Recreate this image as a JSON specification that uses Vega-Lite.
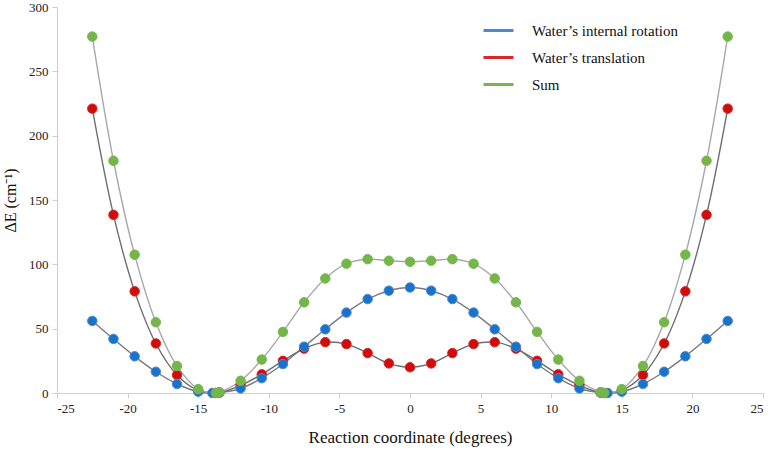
{
  "$schema": "https://vega.github.io/schema/vega-lite/v6.json",
  "width": 706,
  "height": 386,
  "autosize": {"type": "none"},
  "padding": {"left": 57, "top": 7, "right": 8, "bottom": 58},
  "background": "white",
  "config": {
    "view": {"stroke": null},
    "font": "Times New Roman",
    "axis": {
      "labelFont": "Times New Roman",
      "titleFont": "Times New Roman",
      "labelColor": "#222",
      "titleColor": "#111",
      "labelFontSize": 13,
      "titleFontWeight": "normal",
      "grid": false,
      "domainColor": "#cfcfcf",
      "tickColor": "#cfcfcf",
      "tickSize": 5
    },
    "legend": {
      "labelFont": "Liberation Serif"
    }
  },
  "data": {
    "values": [
      {"x": -22.5, "s": "Water’s translation", "v": 221},
      {"x": -21, "s": "Water’s translation", "v": 138.5},
      {"x": -19.5, "s": "Water’s translation", "v": 79},
      {"x": -18, "s": "Water’s translation", "v": 38.5},
      {"x": -16.5, "s": "Water’s translation", "v": 14},
      {"x": -15, "s": "Water’s translation", "v": 2},
      {"x": -13.8, "s": "Water’s translation", "v": 0},
      {"x": -13.5, "s": "Water’s translation", "v": 0.3},
      {"x": -12, "s": "Water’s translation", "v": 6},
      {"x": -10.5, "s": "Water’s translation", "v": 14.5},
      {"x": -9, "s": "Water’s translation", "v": 25},
      {"x": -7.5, "s": "Water’s translation", "v": 34.5},
      {"x": -6, "s": "Water’s translation", "v": 39.5},
      {"x": -4.5, "s": "Water’s translation", "v": 38},
      {"x": -3, "s": "Water’s translation", "v": 31},
      {"x": -1.5, "s": "Water’s translation", "v": 23},
      {"x": 0, "s": "Water’s translation", "v": 20},
      {"x": 1.5, "s": "Water’s translation", "v": 23},
      {"x": 3, "s": "Water’s translation", "v": 31},
      {"x": 4.5, "s": "Water’s translation", "v": 38},
      {"x": 6, "s": "Water’s translation", "v": 39.5},
      {"x": 7.5, "s": "Water’s translation", "v": 34.5},
      {"x": 9, "s": "Water’s translation", "v": 25},
      {"x": 10.5, "s": "Water’s translation", "v": 14.5},
      {"x": 12, "s": "Water’s translation", "v": 6},
      {"x": 13.5, "s": "Water’s translation", "v": 0.3},
      {"x": 13.8, "s": "Water’s translation", "v": 0},
      {"x": 15, "s": "Water’s translation", "v": 2},
      {"x": 16.5, "s": "Water’s translation", "v": 14},
      {"x": 18, "s": "Water’s translation", "v": 38.5},
      {"x": 19.5, "s": "Water’s translation", "v": 79},
      {"x": 21, "s": "Water’s translation", "v": 138.5},
      {"x": 22.5, "s": "Water’s translation", "v": 221},

      {"x": -22.5, "s": "Water’s internal rotation", "v": 56},
      {"x": -21, "s": "Water’s internal rotation", "v": 42},
      {"x": -19.5, "s": "Water’s internal rotation", "v": 28.5},
      {"x": -18, "s": "Water’s internal rotation", "v": 16.5},
      {"x": -16.5, "s": "Water’s internal rotation", "v": 7},
      {"x": -15, "s": "Water’s internal rotation", "v": 1},
      {"x": -14, "s": "Water’s internal rotation", "v": 0},
      {"x": -13.5, "s": "Water’s internal rotation", "v": 0.3},
      {"x": -12, "s": "Water’s internal rotation", "v": 3.5},
      {"x": -10.5, "s": "Water’s internal rotation", "v": 11.5},
      {"x": -9, "s": "Water’s internal rotation", "v": 22.5},
      {"x": -7.5, "s": "Water’s internal rotation", "v": 36},
      {"x": -6, "s": "Water’s internal rotation", "v": 49.5},
      {"x": -4.5, "s": "Water’s internal rotation", "v": 62.5},
      {"x": -3, "s": "Water’s internal rotation", "v": 73},
      {"x": -1.5, "s": "Water’s internal rotation", "v": 79.5},
      {"x": 0, "s": "Water’s internal rotation", "v": 82},
      {"x": 1.5, "s": "Water’s internal rotation", "v": 79.5},
      {"x": 3, "s": "Water’s internal rotation", "v": 73},
      {"x": 4.5, "s": "Water’s internal rotation", "v": 62.5},
      {"x": 6, "s": "Water’s internal rotation", "v": 49.5},
      {"x": 7.5, "s": "Water’s internal rotation", "v": 36},
      {"x": 9, "s": "Water’s internal rotation", "v": 22.5},
      {"x": 10.5, "s": "Water’s internal rotation", "v": 11.5},
      {"x": 12, "s": "Water’s internal rotation", "v": 3.5},
      {"x": 13.5, "s": "Water’s internal rotation", "v": 0.3},
      {"x": 14, "s": "Water’s internal rotation", "v": 0},
      {"x": 15, "s": "Water’s internal rotation", "v": 1},
      {"x": 16.5, "s": "Water’s internal rotation", "v": 7},
      {"x": 18, "s": "Water’s internal rotation", "v": 16.5},
      {"x": 19.5, "s": "Water’s internal rotation", "v": 28.5},
      {"x": 21, "s": "Water’s internal rotation", "v": 42},
      {"x": 22.5, "s": "Water’s internal rotation", "v": 56},

      {"x": -22.5, "s": "Sum", "v": 277},
      {"x": -21, "s": "Sum", "v": 180.5},
      {"x": -19.5, "s": "Sum", "v": 107.5},
      {"x": -18, "s": "Sum", "v": 55},
      {"x": -16.5, "s": "Sum", "v": 21},
      {"x": -15, "s": "Sum", "v": 3},
      {"x": -13.75, "s": "Sum", "v": 0},
      {"x": -13.5, "s": "Sum", "v": 0.6},
      {"x": -12, "s": "Sum", "v": 9.5},
      {"x": -10.5, "s": "Sum", "v": 26},
      {"x": -9, "s": "Sum", "v": 47.5},
      {"x": -7.5, "s": "Sum", "v": 70.5},
      {"x": -6, "s": "Sum", "v": 89},
      {"x": -4.5, "s": "Sum", "v": 100.5},
      {"x": -3, "s": "Sum", "v": 104},
      {"x": -1.5, "s": "Sum", "v": 102.8},
      {"x": 0, "s": "Sum", "v": 102},
      {"x": 1.5, "s": "Sum", "v": 102.8},
      {"x": 3, "s": "Sum", "v": 104},
      {"x": 4.5, "s": "Sum", "v": 100.5},
      {"x": 6, "s": "Sum", "v": 89},
      {"x": 7.5, "s": "Sum", "v": 70.5},
      {"x": 9, "s": "Sum", "v": 47.5},
      {"x": 10.5, "s": "Sum", "v": 26},
      {"x": 12, "s": "Sum", "v": 9.5},
      {"x": 13.5, "s": "Sum", "v": 0.6},
      {"x": 13.75, "s": "Sum", "v": 0},
      {"x": 15, "s": "Sum", "v": 3},
      {"x": 16.5, "s": "Sum", "v": 21},
      {"x": 18, "s": "Sum", "v": 55},
      {"x": 19.5, "s": "Sum", "v": 107.5},
      {"x": 21, "s": "Sum", "v": 180.5},
      {"x": 22.5, "s": "Sum", "v": 277}
    ]
  },
  "encoding": {
    "x": {
      "field": "x",
      "type": "quantitative",
      "scale": {"domain": [-25, 25], "nice": false},
      "axis": {
        "values": [-25, -20, -15, -10, -5, 0, 5, 10, 15, 20, 25],
        "labelExpr": "toString(datum.value)",
        "labelFont": "Times New Roman",
        "titleFont": "Times New Roman",
        "title": "Reaction coordinate (degrees)",
        "titleFontSize": 17,
        "titlePadding": 14,
        "labelPadding": 4
      }
    },
    "y": {
      "field": "v",
      "type": "quantitative",
      "scale": {"domain": [0, 300], "nice": false},
      "axis": {
        "values": [0, 50, 100, 150, 200, 250, 300],
        "labelFont": "Times New Roman",
        "titleFont": "Times New Roman",
        "title": "ΔE (cm⁻¹)",
        "titleFontSize": 16,
        "titlePadding": 10,
        "labelPadding": 4
      }
    }
  },
  "layer": [
    {
      "transform": [{"filter": "datum.s === 'Water’s internal rotation'"}],
      "mark": {"type": "line", "interpolate": "catmull-rom", "strokeWidth": 1.4, "color": "#7a7a7a"},
      "encoding": {}
    },
    {
      "transform": [{"filter": "datum.s === 'Water’s translation'"}],
      "mark": {"type": "line", "interpolate": "catmull-rom", "strokeWidth": 1.4, "color": "#6e6e6e"},
      "encoding": {}
    },
    {
      "transform": [{"filter": "datum.s === 'Sum'"}],
      "mark": {"type": "line", "interpolate": "catmull-rom", "strokeWidth": 1.4, "color": "#a8a8a8"},
      "encoding": {}
    },
    {
      "mark": {"type": "point", "filled": true, "opacity": 1, "size": 90, "strokeWidth": 1},
      "encoding": {
        "color": {
          "field": "s",
          "type": "nominal",
          "sort": null,
          "scale": {
            "domain": ["Water’s internal rotation", "Water’s translation", "Sum"],
            "range": ["#1874c9", "#d10a0a", "#74b64a"]
          },
          "legend": {
            "title": null,
            "orient": "none",
            "legendX": 425,
            "legendY": 7,
            "symbolType": "stroke",
            "symbolSize": 900,
            "symbolStrokeWidth": 3,
            "labelFont": "Liberation Serif",
            "labelFontSize": 15,
            "labelColor": "#111",
            "labelOffset": 17,
            "rowPadding": 2
          }
        },
        "stroke": {
          "field": "s",
          "type": "nominal",
          "sort": null,
          "scale": {
            "domain": ["Water’s internal rotation", "Water’s translation", "Sum"],
            "range": ["#4f86d8", "#d42a2a", "#7ab54e"]
          },
          "legend": {
            "title": null,
            "orient": "none",
            "legendX": 425,
            "legendY": 7,
            "symbolType": "stroke",
            "symbolSize": 900,
            "symbolStrokeWidth": 3,
            "labelFont": "Liberation Serif",
            "labelFontSize": 15,
            "labelColor": "#111",
            "labelOffset": 17,
            "rowPadding": 2
          }
        }
      }
    }
  ]
}
